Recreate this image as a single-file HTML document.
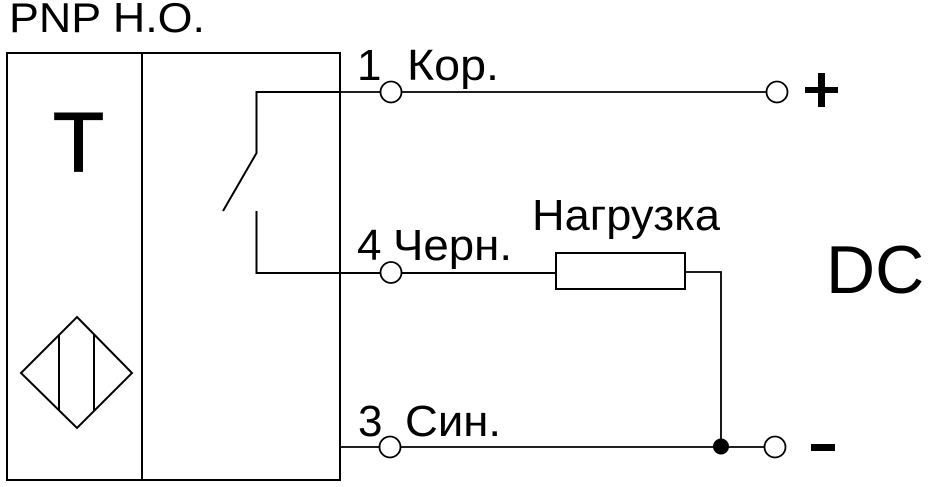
<!DOCTYPE html>
<html>
<head>
<meta charset="utf-8">
<style>
  html, body { margin: 0; padding: 0; background: #fff; }
  svg { display: block; }
  text { font-family: "Liberation Sans", "DejaVu Sans", sans-serif; fill: #000; }
</style>
</head>
<body>
<svg width="928" height="487" viewBox="0 0 928 487" xmlns="http://www.w3.org/2000/svg">
  <rect x="0" y="0" width="928" height="487" fill="#fff"/>

  <!-- Title -->
  <text x="9" y="32" font-size="42" textLength="196" lengthAdjust="spacingAndGlyphs">PNP H.O.</text>

  <!-- Sensor box -->
  <rect x="7" y="53" width="333" height="427" fill="none" stroke="#000" stroke-width="2"/>
  <line x1="142" y1="53" x2="142" y2="480" stroke="#000" stroke-width="2"/>

  <!-- T -->
  <text x="78.5" y="171" font-size="84" text-anchor="middle" stroke="#000" stroke-width="1.2">T</text>

  <!-- Diamond symbol -->
  <polygon points="77,317 132,373 77,428 21,373" fill="none" stroke="#000" stroke-width="2"/>
  <line x1="59" y1="335" x2="59" y2="411" stroke="#000" stroke-width="2"/>
  <line x1="94" y1="335" x2="94" y2="411" stroke="#000" stroke-width="2"/>

  <!-- Switch -->
  <polyline points="340,92 256.5,92 256.5,153 223,211" fill="none" stroke="#000" stroke-width="2"/>
  <polyline points="256.5,211 256.5,273 556,273" fill="none" stroke="#000" stroke-width="2"/>

  <!-- Pin 1 line -->
  <line x1="340" y1="92" x2="767" y2="92" stroke="#000" stroke-width="1.8"/>
  <!-- Pin 3 line -->
  <line x1="340" y1="447" x2="765" y2="447" stroke="#000" stroke-width="1.8"/>

  <!-- Resistor -->
  <rect x="556" y="253" width="129" height="36" fill="#fff" stroke="#000" stroke-width="2"/>
  <polyline points="685,272 721,272 721,447" fill="none" stroke="#000" stroke-width="1.8"/>
  <circle cx="721" cy="446.5" r="8" fill="#000"/>

  <!-- Terminal circles -->
  <circle cx="391" cy="92" r="10.5" fill="#fff" stroke="#000" stroke-width="1.8"/>
  <circle cx="391" cy="272.5" r="10.5" fill="#fff" stroke="#000" stroke-width="1.8"/>
  <circle cx="390" cy="447" r="10.5" fill="#fff" stroke="#000" stroke-width="1.8"/>
  <circle cx="777" cy="92" r="10.5" fill="#fff" stroke="#000" stroke-width="1.8"/>
  <circle cx="775" cy="447" r="10.5" fill="#fff" stroke="#000" stroke-width="1.8"/>

  <!-- Labels -->
  <text x="357" y="80" font-size="44">1</text>
  <text x="407" y="80" font-size="44" textLength="92" lengthAdjust="spacingAndGlyphs">Кор.</text>
  <text x="357" y="260" font-size="44">4</text>
  <text x="393" y="260" font-size="44" textLength="119" lengthAdjust="spacingAndGlyphs">Черн.</text>
  <text x="358" y="436" font-size="44">3</text>
  <text x="405" y="436" font-size="44" textLength="96" lengthAdjust="spacingAndGlyphs">Син.</text>
  <text x="532" y="230" font-size="44" textLength="188" lengthAdjust="spacingAndGlyphs">Нагрузка</text>
  <text x="826" y="293" font-size="68">DC</text>

  <!-- Plus sign -->
  <rect x="805" y="87" width="33" height="6" fill="#000"/>
  <rect x="818" y="73" width="7" height="34" fill="#000"/>
  <!-- Minus sign -->
  <rect x="811" y="444" width="24" height="7" fill="#000"/>
</svg>
</body>
</html>
